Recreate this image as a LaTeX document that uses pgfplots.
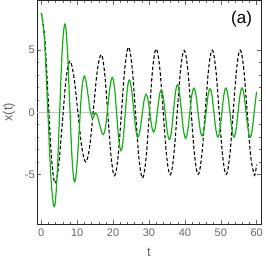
\documentclass[border=0pt]{standalone}
\usepackage{pgfplots}
\pgfplotsset{compat=1.18}
\usepackage{fontspec}
\setmainfont{Liberation Sans}
\definecolor{mgreen}{rgb}{0.08,0.69,0.08}
\definecolor{tickgray}{gray}{0.4}
\begin{document}
\begin{tikzpicture}
\path[use as bounding box] (-37pt,-39pt) rectangle (229pt,224pt);
\begin{axis}[
  at={(0,0)}, anchor=south west,
  scale only axis, width=224pt, height=223.5pt,
  xmin=-1.2, xmax=61.2, ymin=-9, ymax=9,
  xtick={0,10,...,60}, ytick={-5,0,5},
  minor x tick num=4, minor y tick num=4,
  tick align=inside,
  major tick length=4pt, minor tick length=2pt,
  every tick/.style={tickgray, line width=0.4pt},
  axis line style={black!85, line width=0.6pt},
  tick label style={font=\fontsize{11}{13}\selectfont, text=tickgray},
  /pgf/number format/assume math mode=true,
  yticklabel style={xshift=1.2pt},
  xticklabel style={yshift=-1pt},
  xlabel={t}, ylabel={x(t)},
  label style={font=\fontsize{13}{15}\selectfont, text=tickgray},
  xlabel style={yshift=-5pt},
  ylabel style={yshift=3pt},
  extra y ticks={0}, extra y tick labels={},
  extra y tick style={grid=major, major grid style={gray!45, line width=0.5pt}, major tick length=0pt},
  clip=true,
]
\addplot[black, line width=1.1pt, dash pattern=on 3.5pt off 2.2pt, smooth, tension=0.6] coordinates {
(0,8.0) (0.95,5.99) (1.9,1.15) (2.85,-3.69)
(3.8,-5.7) (4.835,-4.27) (5.87,-0.8) (6.905,2.67)
(7.94,4.1) (9.055,2.91) (10.17,0.05) (11.285,-2.81)
(12.4,-4.0) (13.475,-2.74) (14.55,0.32) (15.625,3.38)
(16.7,4.64) (17.625,3.21) (18.55,-0.23) (19.475,-3.67)
(20.4,-5.1) (21.375,-3.59) (22.35,0.065) (23.325,3.72)
(24.3,5.23) (25.275,3.69) (26.25,-0.035) (27.225,-3.76)
(28.2,-5.3) (29.15,-3.78) (30.1,-0.1) (31.05,3.58)
(32.0,5.1) (32.975,3.62) (33.95,0.03) (34.925,-3.56)
(35.9,-5.04) (36.875,-3.57) (37.85,-0.03) (38.825,3.51)
(39.8,4.98) (40.775,3.52) (41.75,-0.01) (42.725,-3.54)
(43.7,-5.0) (44.675,-3.54) (45.65,0) (46.625,3.54)
(47.6,5.0) (48.575,3.54) (49.55,0) (50.525,-3.54)
(51.5,-5.0) (52.475,-3.54) (53.45,0) (54.425,3.54)
(55.4,5.0) (56.375,3.54) (57.35,0) (58.325,-3.54)
(59.3,-5.0) (59.65,-4.8) (60,-4.22)
};
\addplot[mgreen, line width=1.2pt, smooth, tension=0.6] coordinates {
(0,8.0) (0.9,5.72) (1.8,0.2) (2.7,-5.32)
(3.6,-7.6) (4.34,-5.45) (5.08,-0.25) (5.82,4.95)
(6.56,7.1) (7.23,5.24) (7.9,0.75) (8.57,-3.74)
(9.24,-5.6) (9.905,-4.36) (10.57,-1.35) (11.235,1.66)
(11.9,2.9) (12.5,2.40) (13.1,1.2) (13.7,0.0)
(14.3,-0.5) (14.7,-0.275)
(15.1,-0.05) (15.65,-0.31) (16.2,-0.925) (16.75,-1.54)
(17.3,-1.8) (17.925,-1.13) (18.55,0.5) (19.175,2.13)
(19.8,2.8) (20.4,1.94) (21.0,-0.15) (21.6,-2.24)
(22.2,-3.1) (22.775,-2.27) (23.35,-0.25) (23.925,1.77)
(24.5,2.6) (25.1,1.93) (25.7,0.3) (26.3,-1.33)
(26.9,-2.0) (27.475,-1.50) (28.05,-0.275) (28.625,0.94)
(29.2,1.45) (29.725,1.00) (30.25,-0.075) (30.775,-1.15)
(31.3,-1.6) (31.825,-1.10) (32.35,0.1) (32.875,1.30)
(33.4,1.8) (33.975,1.21) (34.55,-0.2) (35.125,-1.61)
(35.7,-2.2) (36.25,-1.56) (36.8,0.0) (37.35,1.56)
(37.9,2.2) (38.475,1.57) (39.05,0.05) (39.625,-1.47)
(40.2,-2.1) (40.775,-1.51) (41.35,-0.075) (41.925,1.36)
(42.5,1.95) (43.075,1.39) (43.65,0.025) (44.225,-1.34)
(44.8,-1.9) (45.35,-1.34) (45.9,0.0) (46.45,1.34)
(47.0,1.9) (47.55,1.33) (48.1,-0.05) (48.65,-1.43)
(49.2,-2.0) (49.75,-1.42) (50.3,-0.025) (50.85,1.37)
(51.4,1.95) (51.975,1.37) (52.55,-0.025) (53.125,-1.42)
(53.7,-2.0) (54.25,-1.42) (54.8,-0.025) (55.35,1.37)
(55.9,1.95) (56.475,1.37) (57.05,-0.025) (57.625,-1.42)
(58.2,-2.0) (58.75,-1.42) (59.3,-0.025) (59.85,1.37) (60,1.65)
};
\node[font=\fontsize{17}{20}\selectfont, black] at (axis cs:55.8,7.5) {(a)};
\end{axis}
\end{tikzpicture}
\end{document}
